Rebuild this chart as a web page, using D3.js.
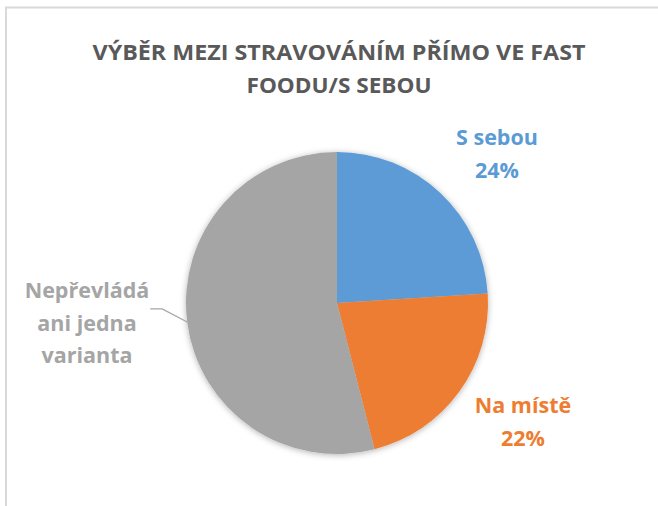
<!DOCTYPE html>
<html>
<head>
<meta charset="utf-8">
<script src="https://cdn.jsdelivr.net/npm/d3@7"></script>
<style>
  body { margin: 0; background: #fff; }
  svg { display: block; }
  text { font-family: "Open Sans", sans-serif; font-weight: bold; }
</style>
</head>
<body>
<div id="chart"></div>
<script>
const titleLines = ["VÝBĚR MEZI STRAVOVÁNÍM PŘÍMO VE FAST", "FOODU/S SEBOU"];
const categories = ["S sebou", "Na místě", "Nepřevládá ani jedna varianta"];
const values = [24, 22, 54];
const colors = ["#5B9BD5", "#ED7D31", "#A5A5A5"];
// label lines per slice (gray one shows no percentage)
const labelLines = [["S sebou", "24%"], ["Na místě", "22%"], ["Nepřevládá", "ani jedna", "varianta"]];

const width = 658, height = 506;
const cx = 337, cy = 303, radius = 151;
// label offset from the slice's outer edge midpoint
const labelOffset = [[56.6, -31.4], [63.8, 37.7], [-100.2, 8.6]];

const svg = d3.select('#chart').append('svg')
  .attr('width', width)
  .attr('height', height);

const defs = svg.append('defs');
const shadow = defs.append('filter').attr('id', 'shadow')
  .attr('x', '-20%').attr('y', '-20%').attr('width', '140%').attr('height', '140%');
shadow.append('feDropShadow')
  .attr('dx', 0).attr('dy', 1).attr('stdDeviation', 3)
  .attr('flood-color', '#000').attr('flood-opacity', 0.3);

// chart area border (cropped on right and bottom)
svg.append('path')
  .attr('d', 'M6,' + height + 'V7.5H' + width)
  .attr('fill', 'none')
  .attr('stroke', '#D9D9D9')
  .attr('stroke-width', 2);

// title
svg.append('g').selectAll('text')
  .data(titleLines)
  .enter().append('text')
  .attr('x', 339)
  .attr('y', (d, i) => 60 + i * 33)
  .attr('text-anchor', 'middle')
  .attr('fill', '#595959')
  .attr('font-size', 22)
  .attr('textLength', (d, i) => i === 0 ? 493 : 185)
  .attr('lengthAdjust', 'spacingAndGlyphs')
  .text(d => d);

const pie = d3.pie().sort(null).value(d => d);
const arcs = pie(values);
const arc = d3.arc().innerRadius(0).outerRadius(radius);

const g = svg.append('g')
  .attr('transform', 'translate(' + cx + ',' + cy + ')');

g.append('g')
  .attr('filter', 'url(#shadow)')
  .selectAll('path')
  .data(arcs)
  .enter().append('path')
  .attr('d', arc)
  .attr('fill', (d, i) => colors[i]);

const midAngle = d => (d.startAngle + d.endAngle) / 2;
const polar = (a, r) => [Math.sin(a) * r, -Math.cos(a) * r];

// leader line for the gray slice
const gray = arcs[2];
const p0 = polar(midAngle(gray), radius);
const p1 = [p0[0] - 25, p0[1] - 13];
const p2 = [p1[0] - 12, p1[1]];
g.append('polyline')
  .attr('points', [p0, p1, p2].map(p => p.join(',')).join(' '))
  .attr('fill', 'none')
  .attr('stroke', '#A5A5A5')
  .attr('stroke-width', 1.2);

// data labels
const labels = g.selectAll('.label')
  .data(arcs)
  .enter().append('text')
  .attr('class', 'label')
  .attr('text-anchor', 'middle')
  .attr('fill', (d, i) => colors[i])
  .attr('font-size', 21.5)
  .attr('transform', (d, i) => {
    const p = polar(midAngle(d), radius);
    return 'translate(' + (p[0] + labelOffset[i][0]) + ',' + (p[1] + labelOffset[i][1]) + ')';
  });

labels.selectAll('tspan')
  .data((d, i) => labelLines[i].map((t, j, arr) => ({ t: t, j: j, n: arr.length })))
  .enter().append('tspan')
  .attr('x', 0)
  .attr('y', d => (d.j - (d.n - 1) / 2) * 32.5)
  .text(d => d.t);
</script>
</body>
</html>
